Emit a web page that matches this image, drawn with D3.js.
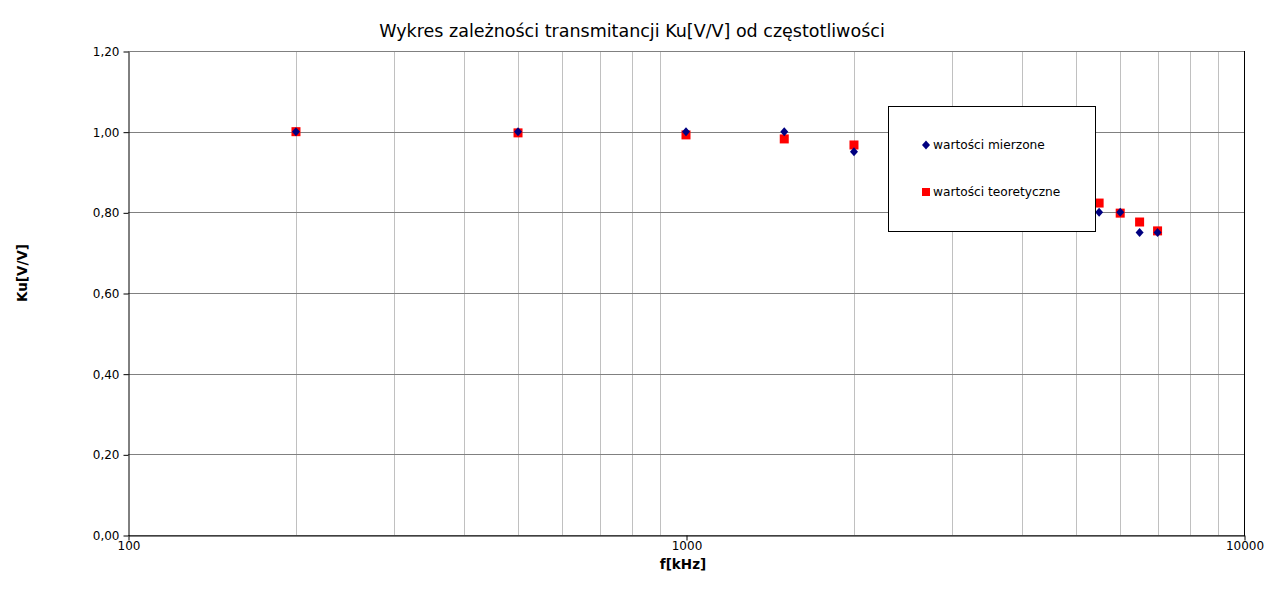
<!DOCTYPE html>
<html><head><meta charset="utf-8">
<script src="https://cdn.jsdelivr.net/npm/d3@7"></script>
<style>body{margin:0;background:#fff}svg{display:block;font-family:"DejaVu Sans",sans-serif}</style>
</head><body>
<script>
const freq = [200, 500, 1000, 1500, 2000, 5500, 6000, 6500, 7000];
const measured = [1.00, 1.00, 1.00, 1.00, 0.95, 0.80, 0.80, 0.75, 0.75];
const theoretical = [1.00, 0.997, 0.992, 0.982, 0.967, 0.823, 0.798, 0.776, 0.754];
const yTicks = [0, 0.2, 0.4, 0.6, 0.8, 1.0, 1.2];
const xMajor = [100, 1000, 10000];
const xMinor = [200,300,400,500,600,700,800,900,2000,3000,4000,5000,6000,7000,8000,9000];
const seriesNames = ["wartości mierzone", "wartości teoretyczne"];

const W = 1264, H = 589;
const L = 128, R = 1244, T = 51, B = 535;
const svg = d3.select("body").append("svg").attr("width", W).attr("height", H);
const x = d3.scaleLog().domain([100, 10000]).range([L, R]);
const y = d3.scaleLinear().domain([0, 1.2]).range([B, T]);

// minor vertical grid
svg.append("g").selectAll("line").data(xMinor).join("line")
  .attr("x1", d => Math.round(x(d)) + 0.5).attr("x2", d => Math.round(x(d)) + 0.5)
  .attr("y1", T).attr("y2", B).attr("stroke", "#c0c0c0").attr("stroke-width", 1);
// horizontal grid
svg.append("g").selectAll("line").data(yTicks).join("line")
  .attr("x1", L).attr("x2", R)
  .attr("y1", d => Math.round(y(d)) + 0.5).attr("y2", d => Math.round(y(d)) + 0.5)
  .attr("stroke", "#808080").attr("stroke-width", 1);

// y axis
const yAxis = d3.axisLeft(y).tickValues(yTicks).tickSize(5).tickSizeOuter(0)
  .tickFormat(d => d3.format(".2f")(d).replace(".", ","));
const gy = svg.append("g").attr("transform", `translate(${L + 0.5},0.5)`).call(yAxis);
gy.selectAll("text").attr("font-size", 12).attr("fill", "#000").attr("font-family", "DejaVu Sans").attr("dx", -1);
gy.select(".domain").attr("stroke", "#000");
gy.selectAll(".tick line").attr("stroke", "#000");

// x axis
const xAxis = d3.axisBottom(x).tickValues(xMajor).tickSize(5).tickSizeOuter(0).tickFormat(d3.format("d"));
const gx = svg.append("g").attr("transform", `translate(0.5,${B + 0.5})`).call(xAxis);
gx.selectAll("text").attr("font-size", 12).attr("fill", "#000").attr("font-family", "DejaVu Sans").attr("y", 5).attr("dy", "0.8em");
gx.select(".domain").attr("stroke", "#000");
gx.selectAll(".tick line").attr("stroke", "#000");

// right border
svg.append("line").attr("x1", R + 0.5).attr("x2", R + 0.5).attr("y1", T).attr("y2", B + 1).attr("stroke", "#000");

// data points
const diamondPath = "M0,-4.5L4,0L0,4.5L-4,0Z";
svg.append("g").selectAll("rect").data(freq).join("rect")
  .attr("x", d => x(d) - 4.5).attr("y", (d, i) => y(theoretical[i]) - 4.5)
  .attr("width", 9).attr("height", 9).attr("fill", "#ff0000");
svg.append("g").selectAll("path").data(freq).join("path")
  .attr("d", diamondPath)
  .attr("transform", (d, i) => `translate(${x(d)},${y(measured[i])})`)
  .attr("fill", "#000080");

// legend
const lg = svg.append("g");
lg.append("rect").attr("x", 888.5).attr("y", 106.5).attr("width", 207).attr("height", 125)
  .attr("fill", "#fff").attr("stroke", "#000");
lg.append("path").attr("d", diamondPath).attr("transform", "translate(926,145)").attr("fill", "#000080");
lg.append("rect").attr("x", 922).attr("y", 188).attr("width", 8).attr("height", 8).attr("fill", "#ff0000");
lg.append("text").attr("x", 933).attr("y", 149).attr("font-size", 12.2).text(seriesNames[0]);
lg.append("text").attr("x", 933).attr("y", 196).attr("font-size", 12.2).text(seriesNames[1]);

// titles
svg.append("text").attr("x", 632).attr("y", 37).attr("text-anchor", "middle")
  .attr("font-size", 17.5).attr("font-weight", 500).text("Wykres zależności transmitancji Ku[V/V] od częstotliwości");
svg.append("text").attr("x", 683).attr("y", 569).attr("text-anchor", "middle")
  .attr("font-size", 13.5).attr("font-weight", "bold").text("f[kHz]");
svg.append("text").attr("transform", "translate(27,273) rotate(-90)").attr("text-anchor", "middle")
  .attr("font-size", 13.5).attr("font-weight", "bold").text("Ku[V/V]");
</script>
</body></html>
